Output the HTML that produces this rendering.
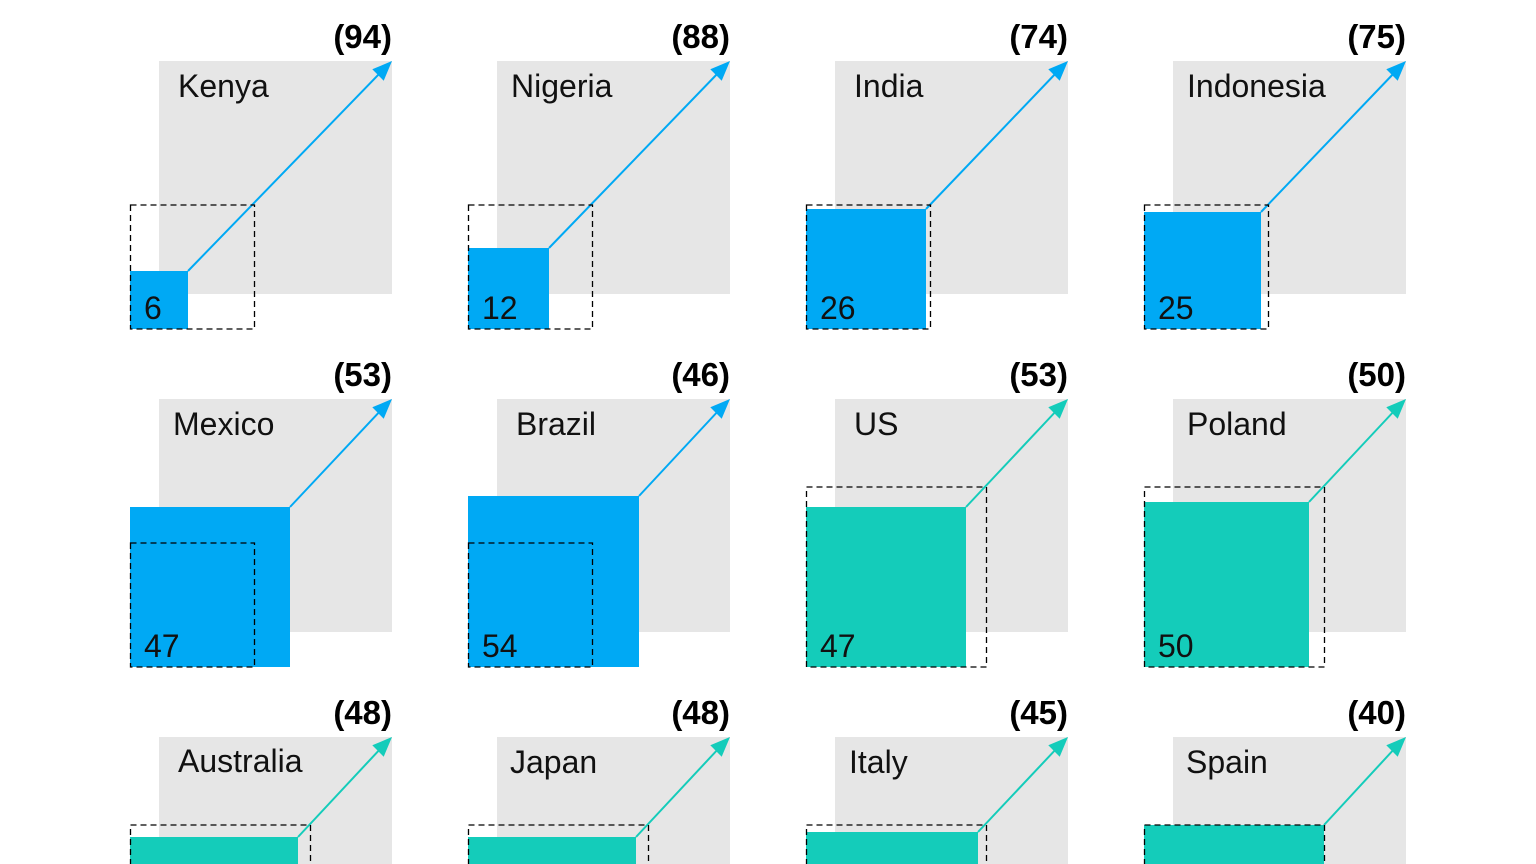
<!DOCTYPE html>
<html><head><meta charset="utf-8"><style>
html,body{margin:0;padding:0;background:#fff;overflow:hidden;width:1536px;height:864px;}
svg{display:block;font-family:"Liberation Sans",sans-serif;}
.g{fill:#e6e6e6}
.d{fill:none;stroke:#000;stroke-width:1.3;stroke-dasharray:6 4}
.h{font-weight:bold;font-size:33px;text-anchor:end;fill:#000}
.n{font-size:32px;fill:#111}
.v{font-size:32px;fill:#111}
</style></head><body>
<svg width="1536" height="864" viewBox="0 0 1536 864">
<defs>
<g id="gb"><rect class="g" x="29" y="-268" width="233" height="233"/></g>
</defs>

<g transform="translate(130,329)">
<use href="#gb"/><rect x="0" y="-58" width="58" height="58" fill="#00a9f4"/>
<line x1="58" y1="-58" x2="252" y2="-258" stroke="#00a9f4" stroke-width="2"/>
<polygon points="262,-268 253.7,-248.3 242.3,-259.7" fill="#00a9f4"/>
<rect class="d" x="0.5" y="-124" width="124" height="124"/>
<text class="h" x="262" y="-281">(94)</text><text class="n" x="48" y="-232">Kenya</text><text class="v" x="14" y="-10">6</text>
</g>
<g transform="translate(468,329)">
<use href="#gb"/><rect x="0" y="-81" width="81" height="81" fill="#00a9f4"/>
<line x1="81" y1="-81" x2="252" y2="-258" stroke="#00a9f4" stroke-width="2"/>
<polygon points="262,-268 253.7,-248.3 242.3,-259.7" fill="#00a9f4"/>
<rect class="d" x="0.5" y="-124" width="124" height="124"/>
<text class="h" x="262" y="-281">(88)</text><text class="n" x="43" y="-232">Nigeria</text><text class="v" x="14" y="-10">12</text>
</g>
<g transform="translate(806,329)">
<use href="#gb"/><rect x="0" y="-120" width="120" height="120" fill="#00a9f4"/>
<line x1="120" y1="-120" x2="252" y2="-258" stroke="#00a9f4" stroke-width="2"/>
<polygon points="262,-268 253.7,-248.3 242.3,-259.7" fill="#00a9f4"/>
<rect class="d" x="0.5" y="-124" width="124" height="124"/>
<text class="h" x="262" y="-281">(74)</text><text class="n" x="48" y="-232">India</text><text class="v" x="14" y="-10">26</text>
</g>
<g transform="translate(1144,329)">
<use href="#gb"/><rect x="0" y="-117" width="117" height="117" fill="#00a9f4"/>
<line x1="117" y1="-117" x2="252" y2="-258" stroke="#00a9f4" stroke-width="2"/>
<polygon points="262,-268 253.7,-248.3 242.3,-259.7" fill="#00a9f4"/>
<rect class="d" x="0.5" y="-124" width="124" height="124"/>
<text class="h" x="262" y="-281">(75)</text><text class="n" x="43" y="-232">Indonesia</text><text class="v" x="14" y="-10">25</text>
</g>

<g transform="translate(130,667)">
<use href="#gb"/><rect x="0" y="-160" width="160" height="160" fill="#00a9f4"/>
<line x1="160" y1="-160" x2="252" y2="-258" stroke="#00a9f4" stroke-width="2"/>
<polygon points="262,-268 253.7,-248.3 242.3,-259.7" fill="#00a9f4"/>
<rect class="d" x="0.5" y="-124" width="124" height="124"/>
<text class="h" x="262" y="-281">(53)</text><text class="n" x="43" y="-232">Mexico</text><text class="v" x="14" y="-10">47</text>
</g>
<g transform="translate(468,667)">
<use href="#gb"/><rect x="0" y="-171" width="171" height="171" fill="#00a9f4"/>
<line x1="171" y1="-171" x2="252" y2="-258" stroke="#00a9f4" stroke-width="2"/>
<polygon points="262,-268 253.7,-248.3 242.3,-259.7" fill="#00a9f4"/>
<rect class="d" x="0.5" y="-124" width="124" height="124"/>
<text class="h" x="262" y="-281">(46)</text><text class="n" x="48" y="-232">Brazil</text><text class="v" x="14" y="-10">54</text>
</g>
<g transform="translate(806,667)">
<use href="#gb"/><rect x="0" y="-160" width="160" height="160" fill="#14ccba"/>
<line x1="160" y1="-160" x2="252" y2="-258" stroke="#14ccba" stroke-width="2"/>
<polygon points="262,-268 253.7,-248.3 242.3,-259.7" fill="#14ccba"/>
<rect class="d" x="0.5" y="-180" width="180" height="180"/>
<text class="h" x="262" y="-281">(53)</text><text class="n" x="48" y="-232">US</text><text class="v" x="14" y="-10">47</text>
</g>
<g transform="translate(1144,667)">
<use href="#gb"/><rect x="0" y="-165" width="165" height="165" fill="#14ccba"/>
<line x1="165" y1="-165" x2="252" y2="-258" stroke="#14ccba" stroke-width="2"/>
<polygon points="262,-268 253.7,-248.3 242.3,-259.7" fill="#14ccba"/>
<rect class="d" x="0.5" y="-180" width="180" height="180"/>
<text class="h" x="262" y="-281">(50)</text><text class="n" x="43" y="-232">Poland</text><text class="v" x="14" y="-10">50</text>
</g>

<g transform="translate(130,1005)">
<use href="#gb"/><rect x="0" y="-168" width="168" height="168" fill="#14ccba"/>
<line x1="168" y1="-168" x2="252" y2="-258" stroke="#14ccba" stroke-width="2"/>
<polygon points="262,-268 253.7,-248.3 242.3,-259.7" fill="#14ccba"/>
<rect class="d" x="0.5" y="-180" width="180" height="180"/>
<text class="h" x="262" y="-281">(48)</text><text class="n" x="48" y="-233">Australia</text>
</g>
<g transform="translate(468,1005)">
<use href="#gb"/><rect x="0" y="-168" width="168" height="168" fill="#14ccba"/>
<line x1="168" y1="-168" x2="252" y2="-258" stroke="#14ccba" stroke-width="2"/>
<polygon points="262,-268 253.7,-248.3 242.3,-259.7" fill="#14ccba"/>
<rect class="d" x="0.5" y="-180" width="180" height="180"/>
<text class="h" x="262" y="-281">(48)</text><text class="n" x="42" y="-232">Japan</text>
</g>
<g transform="translate(806,1005)">
<use href="#gb"/><rect x="0" y="-173" width="172" height="173" fill="#14ccba"/>
<line x1="172" y1="-173" x2="252" y2="-258" stroke="#14ccba" stroke-width="2"/>
<polygon points="262,-268 253.7,-248.3 242.3,-259.7" fill="#14ccba"/>
<rect class="d" x="0.5" y="-180" width="180" height="180"/>
<text class="h" x="262" y="-281">(45)</text><text class="n" x="43" y="-232">Italy</text>
</g>
<g transform="translate(1144,1005)">
<use href="#gb"/><rect x="0" y="-180" width="180" height="180" fill="#14ccba"/>
<line x1="180" y1="-180" x2="252" y2="-258" stroke="#14ccba" stroke-width="2"/>
<polygon points="262,-268 253.7,-248.3 242.3,-259.7" fill="#14ccba"/>
<rect class="d" x="0.5" y="-180" width="180" height="180"/>
<text class="h" x="262" y="-281">(40)</text><text class="n" x="42" y="-232">Spain</text>
</g>
</svg>
</body></html>
